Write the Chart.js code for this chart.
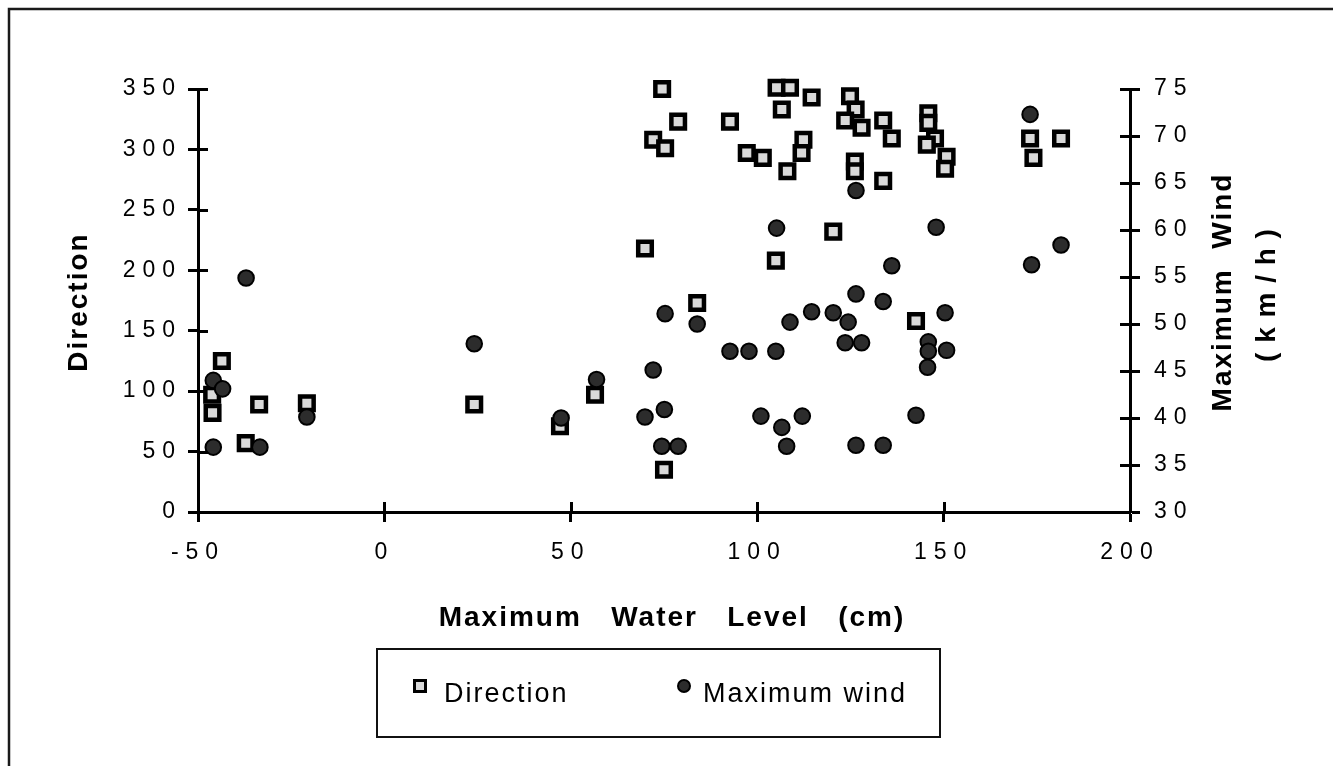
<!DOCTYPE html>
<html>
<head>
<meta charset="utf-8">
<script src="https://cdn.jsdelivr.net/npm/chart.js@4.4.1/dist/chart.umd.min.js"></script>
<style>
  html, body { margin: 0; padding: 0; background: #fff; }
  #wrap { width: 1333px; height: 766px; }
</style>
</head>
<body>
<div id="wrap"><canvas id="c" width="1333" height="766"></canvas></div>
<script>
// Maximum water level (cm) paired with wind direction (degrees)
const levelForDirection = [-43.6, -46.2, -46.1, -37.2, -33.6, -20.8, 24.1, 47.1, 56.5,
  74.5, 78.8, 72.1, 75.3, 92.7, 105.2, 108.8, 106.6, 114.6, 124.9, 126.4, 123.6, 128,
  133.8, 136.1, 112.4, 111.9, 97.2, 101.5, 108.1, 126.2, 126.2, 133.8, 69.9, 120.4, 105,
  83.9, 75, 145.9, 145.9, 147.7, 145.5, 150.8, 150.4, 173.2, 174.1, 181.5, 142.6];
const direction = [125, 97, 82, 57, 89, 90, 89, 71, 97,
  350, 323, 308, 301, 323, 351, 351, 333, 343, 344, 333, 324, 318,
  324, 309, 308, 297, 297, 293, 282, 290, 282, 274, 218, 232, 208,
  173, 35, 330, 322, 309, 304, 294, 284, 309, 293, 309, 158];

// Maximum water level (cm) paired with maximum wind speed (km/h)
const levelForWind = [-37.1, -45.9, -43.4, -45.9, -33.4, -20.8, 24.1, 47.4, 56.9,
  126.5, 105.2, 136.1, 126.5, 133.8, 75.3, 83.9, 114.6, 120.4, 108.8, 124.4, 92.7, 97.8,
  105, 123.6, 128, 72.1, 69.9, 75.1, 74.4, 78.8, 101, 106.6, 112.1, 107.9, 126.5, 133.8,
  173.2, 148, 173.6, 181.5, 150.4, 145.9, 145.9, 150.8, 145.7, 142.6];
const maxWind = [54.9, 44.0, 43.1, 36.9, 36.9, 40.1, 47.9, 40.0, 44.1,
  64.2, 60.2, 56.2, 53.2, 52.4, 51.1, 50.0, 51.3, 51.2, 50.2, 50.2, 47.1, 47.1,
  47.1, 48.0, 48.0, 45.1, 40.1, 40.9, 37.0, 37.0, 40.2, 39.0, 40.2, 37.0, 37.1, 37.1,
  72.3, 60.3, 56.3, 58.4, 51.2, 48.1, 47.1, 47.2, 45.4, 40.3];

// Axis ticks
const levelTicks = [-50, 0, 50, 100, 150, 200];
const directionTicks = [0, 50, 100, 150, 200, 250, 300, 350];
const windTicks = [30, 35, 40, 45, 50, 55, 60, 65, 70, 75];

const seriesNames = ['Direction', 'Maximum wind'];
const xTitle = 'Maximum   Water   Level   (cm)';
const yTitle = 'Direction';
const y1Title = ['Maximum  Wind', '( k m / h )'];

const toPoints = (xs, ys) => xs.map((x, i) => ({ x, y: ys[i] }));

const INK = '#000';
const SQUARE_FILL = '#d9d9d9';
const DOT_FILL = '#2c2c2c';
const TICK_FONT = { family: "'Liberation Sans', Arial, sans-serif", size: 23 };
const TICK_SPACING = 7;
const TITLE_FONT = "bold 28px 'Liberation Sans', Arial, sans-serif";
const LEGEND_FONT = "27px 'Liberation Sans', Arial, sans-serif";

function fixedTicks(list) {
  return (scale) => { scale.ticks = list.map(v => ({ value: v })); };
}

const axisCommon = {
  grid: { drawOnChartArea: false, drawTicks: true, tickLength: 10, tickWidth: 3, tickColor: '#000' },
  border: { display: true, color: '#000', width: 3 },
  ticks: { color: INK, font: TICK_FONT }
};

// Page frame, tick letter spacing
const framePlugin = {
  id: 'frame',
  beforeDraw(chart) {
    const ctx = chart.ctx;
    ctx.save();
    ctx.fillStyle = '#fff';
    ctx.fillRect(0, 0, chart.width, chart.height);
    ctx.strokeStyle = '#1a1a1a';
    ctx.lineWidth = 2.5;
    ctx.beginPath();
    ctx.moveTo(9, chart.height + 5);
    ctx.lineTo(9, 9);
    ctx.lineTo(chart.width + 5, 9);
    ctx.stroke();
    ctx.restore();
    ctx.letterSpacing = TICK_SPACING + 'px';
  }
};

// Tick marks that cross into the plot area
const crossTicksPlugin = {
  id: 'crossTicks',
  beforeDatasetsDraw(chart) {
    const { ctx, chartArea: a, scales } = chart;
    ctx.save();
    ctx.strokeStyle = '#000';
    ctx.lineWidth = 3;
    ctx.beginPath();
    scales.x.ticks.forEach(t => {
      const px = Math.round(scales.x.getPixelForValue(t.value)) + 0.5;
      ctx.moveTo(px, a.bottom); ctx.lineTo(px, a.bottom - 10);
    });
    scales.y.ticks.forEach(t => {
      const py = Math.round(scales.y.getPixelForValue(t.value)) + 0.5;
      ctx.moveTo(a.left, py); ctx.lineTo(a.left + 10, py);
    });
    scales.y1.ticks.forEach(t => {
      const py = Math.round(scales.y1.getPixelForValue(t.value)) + 0.5;
      ctx.moveTo(a.right, py); ctx.lineTo(a.right - 10, py);
    });
    ctx.stroke();
    ctx.restore();
  }
};

function drawSquareMark(ctx, x, y, side, lw) {
  ctx.fillStyle = SQUARE_FILL;
  ctx.strokeStyle = INK;
  ctx.lineWidth = lw;
  ctx.beginPath();
  ctx.rect(x - side / 2, y - side / 2, side, side);
  ctx.fill();
  ctx.stroke();
}
function drawDotMark(ctx, x, y, r) {
  ctx.fillStyle = DOT_FILL;
  ctx.strokeStyle = INK;
  ctx.lineWidth = 2;
  ctx.beginPath();
  ctx.arc(x, y, r, 0, Math.PI * 2);
  ctx.fill();
  ctx.stroke();
}

// Axis titles and the boxed legend
const annotatePlugin = {
  id: 'annotate',
  afterDraw(chart) {
    const { ctx, chartArea: a } = chart;
    ctx.save();
    ctx.letterSpacing = '2px';
    ctx.fillStyle = INK;
    ctx.font = TITLE_FONT;
    ctx.textAlign = 'center';
    ctx.textBaseline = 'middle';
    ctx.fillText(xTitle, (a.left + a.right) / 2 + 8, 618);

    ctx.save();
    ctx.translate(79, 302);
    ctx.rotate(-Math.PI / 2);
    ctx.fillText(yTitle, 0, 0);
    ctx.restore();

    ctx.save();
    ctx.translate(1223, 292);
    ctx.rotate(-Math.PI / 2);
    ctx.fillText(y1Title[0], 0, 0);
    ctx.letterSpacing = '1px';
    ctx.fillText(y1Title[1], -3, 44);
    ctx.restore();

    // legend box
    const box = { l: 377, t: 649, r: 940, b: 737 };
    ctx.strokeStyle = '#111';
    ctx.lineWidth = 2;
    ctx.strokeRect(box.l, box.t, box.r - box.l, box.b - box.t);
    const cy = (box.t + box.b) / 2;
    drawSquareMark(ctx, 420, cy - 7, 11, 3);
    drawDotMark(ctx, 684, cy - 7, 6);
    ctx.font = LEGEND_FONT;
    ctx.letterSpacing = '2px';
    ctx.textAlign = 'left';
    ctx.textBaseline = 'middle';
    ctx.fillStyle = INK;
    ctx.fillText(seriesNames[0], 444, cy + 2);
    ctx.fillText(seriesNames[1], 703, cy + 2);
    ctx.restore();
  }
};

new Chart(document.getElementById('c'), {
  type: 'scatter',
  data: {
    datasets: [
      {
        label: seriesNames[0],
        data: toPoints(levelForDirection, direction),
        yAxisID: 'y',
        clip: false,
        pointStyle: 'rect',
        pointRadius: 9.6,
        pointBorderWidth: 4.5,
        pointBorderColor: INK,
        pointBackgroundColor: SQUARE_FILL,
        order: 2
      },
      {
        label: seriesNames[1],
        data: toPoints(levelForWind, maxWind),
        yAxisID: 'y1',
        clip: false,
        pointStyle: 'circle',
        pointRadius: 7.8,
        pointBorderWidth: 2,
        pointBorderColor: INK,
        pointBackgroundColor: DOT_FILL,
        order: 1
      }
    ]
  },
  options: {
    responsive: false,
    animation: false,
    devicePixelRatio: 1,
    layout: { padding: { top: 89, left: 0, right: 0, bottom: 0 } },
    plugins: { legend: { display: false }, tooltip: { enabled: false } },
    scales: {
      x: {
        type: 'linear', position: 'bottom', min: -50, max: 200,
        afterBuildTicks: fixedTicks(levelTicks),
        afterFit: s => { s.height = 254; },
        grid: axisCommon.grid, border: axisCommon.border,
        ticks: { ...axisCommon.ticks, padding: 17 }
      },
      y: {
        type: 'linear', position: 'left', min: 0, max: 350,
        afterBuildTicks: fixedTicks(directionTicks),
        afterFit: s => { s.width = 198; },
        grid: axisCommon.grid, border: axisCommon.border,
        ticks: { ...axisCommon.ticks, padding: 6 }
      },
      y1: {
        type: 'linear', position: 'right', min: 30, max: 75,
        afterBuildTicks: fixedTicks(windTicks),
        afterFit: s => { s.width = 203; },
        grid: axisCommon.grid, border: axisCommon.border,
        ticks: { ...axisCommon.ticks, padding: 14 }
      }
    }
  },
  plugins: [framePlugin, crossTicksPlugin, annotatePlugin]
});
</script>
</body>
</html>
